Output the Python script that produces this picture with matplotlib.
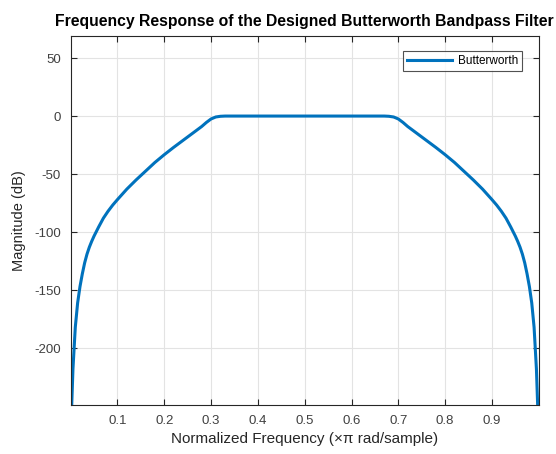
import matplotlib
matplotlib.use("Agg")
import matplotlib.pyplot as plt

plt.rcParams['font.family'] = ['Liberation Sans', 'DejaVu Sans']
plt.rcParams['axes.unicode_minus'] = False

# Normalized frequency (x pi rad/sample) and magnitude (dB)
freq = [0.001, 0.005, 0.01, 0.015, 0.02, 0.025, 0.03, 0.035, 0.04, 0.045,
        0.05, 0.06, 0.07, 0.08, 0.09, 0.1, 0.12, 0.14, 0.16, 0.18,
        0.2, 0.22, 0.24, 0.26, 0.28, 0.29, 0.3, 0.31, 0.32, 0.33,
        0.5,
        0.67, 0.68, 0.69, 0.7, 0.71, 0.72, 0.74, 0.76, 0.78, 0.8,
        0.82, 0.84, 0.86, 0.88, 0.9, 0.91, 0.92, 0.93, 0.94, 0.95,
        0.955, 0.96, 0.965, 0.97, 0.975, 0.98, 0.985, 0.99, 0.995, 0.999]
mag_db = [-265, -218, -182, -161, -147, -136, -126.5, -119, -113, -108,
          -103.5, -95.5, -88, -82, -76.7, -72, -63, -55, -47.5, -40,
          -33.3, -27, -21, -15, -9, -5.5, -2.5, -0.8, -0.2, 0,
          0,
          0, -0.2, -0.8, -2.5, -5.5, -9, -15, -21, -27, -33.3,
          -40, -47.5, -55, -63, -72, -76.7, -82, -88, -95.5, -103.5,
          -108, -113, -119, -126.5, -136, -147, -161, -182, -218, -265]

xticks = [0.1, 0.2, 0.3, 0.4, 0.5, 0.6, 0.7, 0.8, 0.9]
yticks = [-200, -150, -100, -50, 0, 50]

fig = plt.figure(figsize=(5.56, 4.54), dpi=100)
ax = fig.add_axes([0.127, 0.108, 0.842, 0.8127])

ax.plot(freq, mag_db, color='#0072BD', lw=2.2, label='Butterworth',
        solid_joinstyle='round')

ax.set_xlim(0, 1)
ax.set_ylim(-249, 69)
ax.set_xticks(xticks)
ax.set_xticklabels([f"{t:.1f}" for t in xticks])
ax.set_yticks(yticks)
ax.set_yticklabels([str(t) for t in yticks])

ax.grid(True, color='#e3e3e3', lw=0.8)
ax.set_axisbelow(True)
for s in ax.spines.values():
    s.set_color('#262626')
    s.set_linewidth(0.8)
ax.tick_params(direction='in', top=True, right=True, length=4, width=0.8,
               colors='#262626', labelsize=9.5, labelcolor='#404040', pad=7)

ax.set_xlabel('Normalized Frequency (\u00d7\u03c0 rad/sample)', fontsize=11, color='#262626', labelpad=4)
ax.set_ylabel('Magnitude (dB)', fontsize=10.5, color='#262626', labelpad=6)
ax.set_title('Frequency Response of the Designed Butterworth Bandpass Filter',
             fontsize=11.3, fontweight='bold', color='black', pad=7)

leg = ax.legend(loc='upper right', bbox_to_anchor=(0.965, 0.96), fontsize=8.5,
                frameon=True, fancybox=False, handlelength=3.8, borderpad=0.35,
                handletextpad=0.5, borderaxespad=0)
leg.get_frame().set_edgecolor('#262626')
leg.get_frame().set_linewidth(0.8)

fig.savefig('out.png', dpi=100)
